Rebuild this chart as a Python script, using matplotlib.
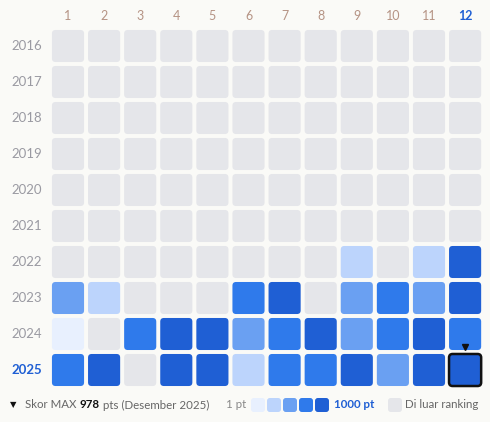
import matplotlib.pyplot as plt
from matplotlib.patches import FancyBboxPatch

years = [2016, 2017, 2018, 2019, 2020, 2021, 2022, 2023, 2024, 2025]
months = list(range(1, 13))
# score level per cell: 0 = outside ranking, 1..5 = light to dark
levels = [
    [0] * 12,
    [0] * 12,
    [0] * 12,
    [0] * 12,
    [0] * 12,
    [0] * 12,
    [0, 0, 0, 0, 0, 0, 0, 0, 2, 0, 2, 5],
    [3, 2, 0, 0, 0, 4, 5, 0, 3, 4, 3, 5],
    [1, 0, 4, 5, 5, 3, 4, 5, 3, 4, 5, 4],
    [4, 5, 0, 5, 5, 2, 4, 4, 5, 3, 5, 5],
]
max_score = 978
colors = ['#e5e6ea', '#e8f0fe', '#bcd4fc', '#6aa0f2', '#2f7aeb', '#1f5fd4']
bg = '#fafaf7'
blue = '#1f5fd4'

plt.rcParams['font.family'] = ['Lato', 'DejaVu Sans']
fig = plt.figure(figsize=(4.9, 4.22), dpi=100, facecolor=bg)
ax = fig.add_axes([0, 0, 1, 1])
ax.set_facecolor(bg)
sx, sy = 36.1, 36.0
ax.set_xlim(-68 / sx, (490 - 68) / sx)
ax.set_ylim((422 - 46) / sy, -46 / sy)
ax.axis('off')

w = 0.89
for r, year in enumerate(years):
    for c, m in enumerate(months):
        lv = levels[r][c]
        sel = (r == len(years) - 1 and c == 11)
        ax.add_patch(FancyBboxPatch((c - w / 2, r - w / 2), w, w,
                                    boxstyle='round,pad=0,rounding_size=0.1',
                                    fc=colors[lv], ec='#111111' if sel else 'none',
                                    lw=1.8 if sel else 0))
        if sel:
            ax.plot(c, r - 0.64, marker='v', color='#111111', ms=4.5)
    last = r == len(years) - 1
    ax.text(-0.72, r, str(year), ha='right', va='center', fontsize=9.5,
            color=blue if last else '#9a9aa2', fontweight='bold' if last else 'normal')

for c, m in enumerate(months):
    last = c == 11
    ax.text(c, -0.82, str(m), ha='center', va='center', fontsize=9,
            color=blue if last else '#b59384', fontweight='bold' if last else 'normal')

# legend row
ly = 405
fs = 8.3
fig.text(10 / 490, 1 - ly / 422, '\u25bc', fontsize=6, va='center', color='#111111',
         family='DejaVu Sans')
parts = [('Skor MAX ', '#666666', 'normal'), (str(max_score), '#111111', 'bold'),
         (' pts (Desember 2025)', '#666666', 'normal')]
fig.canvas.draw()
rend = fig.canvas.get_renderer()
x = 25
for s, col, fw in parts:
    t = fig.text(x / 490, 1 - ly / 422, s, fontsize=fs, va='center', color=col, fontweight=fw)
    x += t.get_window_extent(rend).width

fig.text(226 / 490, 1 - ly / 422, '1 pt', fontsize=fs, va='center', color='#888888')
for i in range(1, 6):
    ax.add_patch(FancyBboxPatch(((251 + 16 * (i - 1) - 68) / sx, (398 - 46) / sy), 14 / sx, 14 / sy,
                                boxstyle='round,pad=0,rounding_size=0.08',
                                fc=colors[i], ec='none', clip_on=False))
fig.text(334 / 490, 1 - ly / 422, '1000 pt', fontsize=fs, va='center', color=blue, fontweight='bold')
ax.add_patch(FancyBboxPatch(((388 - 68) / sx, (398 - 46) / sy), 14 / sx, 14 / sy,
                            boxstyle='round,pad=0,rounding_size=0.08',
                            fc=colors[0], ec='none', clip_on=False))
fig.text(405 / 490, 1 - ly / 422, 'Di luar ranking', fontsize=fs, va='center', color='#666666')

fig.savefig('out.png', dpi=100, facecolor=bg)
